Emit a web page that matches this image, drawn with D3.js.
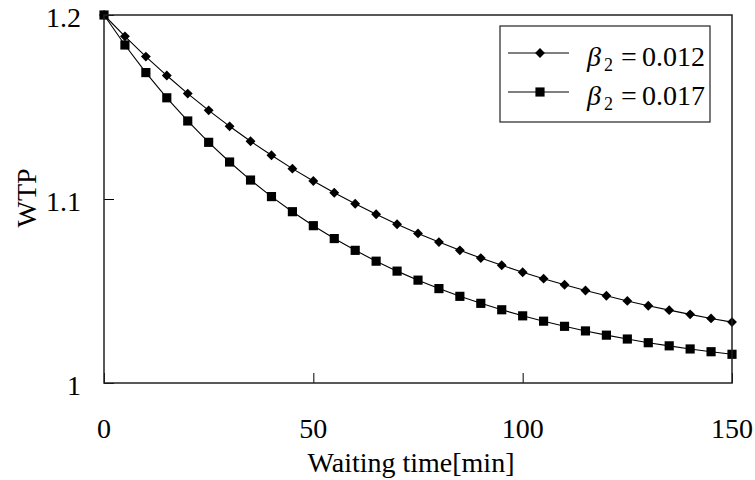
<!DOCTYPE html>
<html>
<head>
<meta charset="utf-8">
<script src="https://cdn.jsdelivr.net/npm/d3@7"></script>
<style>
  body { margin: 0; background: #fff; }
</style>
</head>
<body>
<script>
// waiting time, every 5 minutes
var times = [0, 5, 10, 15, 20, 25, 30, 35, 40, 45, 50, 55, 60, 65, 70, 75,
  80, 85, 90, 95, 100, 105, 110, 115, 120, 125, 130, 135, 140, 145, 150];

// beta2 = 0.012 (diamonds)
var wtpLow = [1.2, 1.1884, 1.1774, 1.1671, 1.1573, 1.1482, 1.1395, 1.1314,
  1.1238, 1.1165, 1.1098, 1.1034, 1.0974, 1.0917, 1.0863, 1.0813, 1.0766,
  1.0721, 1.0679, 1.064, 1.0602, 1.0567, 1.0534, 1.0503, 1.0474, 1.0446,
  1.042, 1.0396, 1.0373, 1.0351, 1.0331];

// beta2 = 0.017 (squares)
var wtpHigh = [1.2, 1.1837, 1.1687, 1.155, 1.1424, 1.1308, 1.1201, 1.1103,
  1.1013, 1.0931, 1.0855, 1.0785, 1.0721, 1.0662, 1.0608, 1.0559, 1.0513,
  1.0471, 1.0433, 1.0398, 1.0365, 1.0336, 1.0308, 1.0283, 1.026, 1.0239,
  1.0219, 1.0202, 1.0185, 1.017, 1.0156];

var xTicks = [0, 50, 100, 150];
var yTicks = [1, 1.1, 1.2];
var yTickLabels = ["1", "1.1", "1.2"];
var legendLabels = ["0.012", "0.017"];

var width = 755, height = 480;
// plot box (don't call it "top", that's window.top)
var plotL = 104, plotR = 732, plotT = 15, plotB = 383;
var serif = "'Liberation Serif', 'Times New Roman', Times, serif";

var svg = d3.select("body").append("svg")
  .attr("width", width)
  .attr("height", height)
  .attr("font-family", serif);

var x = d3.scaleLinear().domain([0, 150]).range([plotL, plotR]);
var y = d3.scaleLinear().domain([1, 1.2]).range([plotB, plotT]);

// inward ticks
var xAxis = svg.append("g")
  .attr("transform", "translate(0," + plotB + ")")
  .call(d3.axisTop(x).tickValues(xTicks).tickSize(10).tickFormat(""));
xAxis.select(".domain").remove();
xAxis.selectAll("line").attr("stroke", "#000");

var yAxis = svg.append("g")
  .attr("transform", "translate(" + plotL + ",0)")
  .call(d3.axisRight(y).tickValues(yTicks).tickSize(10).tickFormat(""));
yAxis.select(".domain").remove();
yAxis.selectAll("line").attr("stroke", "#000");

svg.selectAll(".xlab")
  .data(xTicks)
  .enter().append("text")
  .attr("class", "xlab")
  .attr("x", function(d) { return x(d); })
  .attr("y", 438)
  .attr("text-anchor", "middle")
  .attr("fill", "#000")
  .style("font-size", "28px")
  .text(function(d) { return d; });

svg.selectAll(".ylab")
  .data(yTicks)
  .enter().append("text")
  .attr("class", "ylab")
  .attr("x", 81)
  .attr("y", function(d) { return y(d) + 12; })
  .attr("text-anchor", "end")
  .attr("fill", "#000")
  .style("font-size", "28px")
  .text(function(d, i) { return yTickLabels[i]; });

svg.append("text")
  .attr("x", 411)
  .attr("y", 472)
  .attr("text-anchor", "middle")
  .attr("fill", "#000")
  .style("font-size", "28px")
  .text("Waiting time[min]");

svg.append("text")
  .attr("transform", "translate(36,198) rotate(-90)")
  .attr("text-anchor", "middle")
  .attr("fill", "#000")
  .style("font-size", "28px")
  .text("WTP");

var line = d3.line()
  .x(function(d, i) { return x(times[i]); })
  .y(function(d) { return y(d); });

var diamond = d3.symbol().type(d3.symbolDiamond2).size(62);
var square = d3.symbol().type(d3.symbolSquare).size(84);

function drawSeries(values, sym) {
  svg.append("path")
    .datum(values)
    .attr("d", line)
    .attr("fill", "none")
    .attr("stroke", "#000")
    .attr("stroke-width", 1.1);
  svg.append("g").selectAll("path")
    .data(values)
    .enter().append("path")
    .attr("d", sym)
    .attr("transform", function(d, i) {
      return "translate(" + x(times[i]) + "," + y(d) + ")";
    })
    .attr("fill", "#000");
}

drawSeries(wtpLow, diamond);
drawSeries(wtpHigh, square);

// frame
svg.append("rect")
  .attr("x", plotL)
  .attr("y", plotT)
  .attr("width", plotR - plotL)
  .attr("height", plotB - plotT)
  .attr("fill", "none")
  .attr("stroke", "#222")
  .attr("stroke-width", 1.5);

// legend
var legend = svg.append("g");
legend.append("rect")
  .attr("x", 500).attr("y", 26)
  .attr("width", 210).attr("height", 96)
  .attr("fill", "#fff")
  .attr("stroke", "#222")
  .attr("stroke-width", 1.2);

var syms = [diamond, square];
legendLabels.forEach(function(lab, i) {
  var ly = 53 + i * 39;
  legend.append("line")
    .attr("x1", 508).attr("x2", 569)
    .attr("y1", ly).attr("y2", ly)
    .attr("stroke", "#000");
  legend.append("path")
    .attr("d", syms[i])
    .attr("transform", "translate(540," + ly + ")")
    .attr("fill", "#000");
  var t = legend.append("text")
    .attr("y", ly + 12.5)
    .attr("fill", "#000")
    .style("font-size", "28px");
  t.append("tspan").attr("x", 587).style("font-style", "italic").text("\u03B2");
  t.append("tspan").attr("x", 604).attr("dy", 5).style("font-size", "18px").text("2");
  t.append("tspan").attr("x", 621).attr("dy", -5).text("=");
  t.append("tspan").attr("x", 642).text(lab);
});
</script>
</body>
</html>
